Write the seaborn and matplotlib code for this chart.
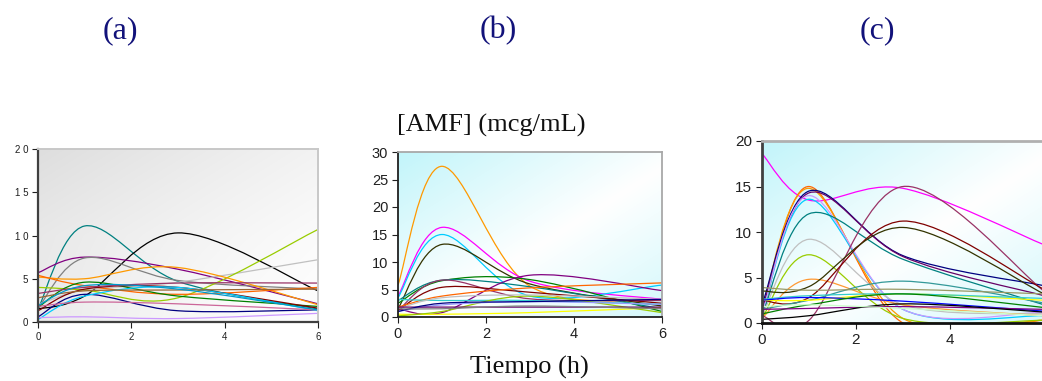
import numpy as np
import matplotlib
matplotlib.use("Agg")
import matplotlib.pyplot as plt
import seaborn as sns
from matplotlib.path import Path
from matplotlib.patches import PathPatch

# ---------------- data ----------------
times = [0, 1, 3, 6]                      # sampling times (h)
x_ticks = [0, 2, 4, 6]
c_x_ticks = [0, 2, 4]                     # the "6" of panel (c) lies past the image edge

a_yticks = [0, 5, 10, 15, 20]
a_yticklabels = ["0", "5", "1 0", "1 5", "2 0"]
a_colors = ["#008080", "#000000", "#800080", "#808080", "#c0c0c0", "#99cc00",
            "#ff9900", "#ff6600", "#008000", "#800000", "#993366", "#000080",
            "#00ccff", "#cc6699", "#cc99ff", "#996633", "#0099cc"]
a_values = [
    [1.5, 11.1, 4.7, 1.5],
    [1.5, 3.0, 10.3, 3.6],
    [5.7, 7.5, 6.1, 2.1],
    [1.6, 7.4, 4.8, 3.8],
    [2.0, 3.7, 4.6, 7.2],
    [4.0, 3.7, 2.8, 10.7],
    [5.2, 5.0, 6.3, 2.0],
    [5.4, 4.2, 3.2, 4.0],
    [1.7, 4.6, 3.0, 1.8],
    [1.3, 3.8, 4.0, 1.6],
    [3.3, 4.0, 4.5, 4.5],
    [0.6, 3.2, 1.3, 1.4],
    [0.3, 3.0, 4.0, 1.3],
    [1.8, 2.3, 2.1, 1.4],
    [0.5, 0.6, 0.4, 1.0],
    [2.8, 3.6, 3.7, 3.8],
    [1.9, 4.2, 3.8, 1.4],
]

b_yticks = [0, 5, 10, 15, 20, 25, 30]
b_colors = ["#ff9900", "#ff00ff", "#00ccff", "#333300", "#008000", "#008080",
            "#800080", "#993366", "#800000", "#ff6600", "#33cccc", "#ffff00",
            "#99cc00", "#9999ff", "#c0c0c0", "#660066", "#000080", "#808080"]
b_values = [
    [5.8, 27.4, 5.6, 3.0],
    [3.8, 16.3, 6.5, 3.2],
    [3.5, 15.0, 3.8, 5.8],
    [1.5, 13.2, 6.0, 2.0],
    [2.5, 6.6, 6.8, 1.0],
    [3.0, 6.7, 5.5, 1.5],
    [1.5, 0.8, 7.6, 4.8],
    [1.2, 6.7, 3.3, 3.0],
    [1.2, 5.4, 4.5, 2.5],
    [1.8, 3.8, 5.3, 6.2],
    [3.2, 3.0, 3.0, 2.3],
    [0.5, 0.5, 0.8, 1.7],
    [0.2, 1.0, 3.8, 0.8],
    [1.0, 2.2, 2.8, 2.3],
    [1.5, 3.5, 4.0, 3.2],
    [1.8, 1.8, 1.8, 1.8],
    [1.0, 2.5, 2.8, 3.2],
    [1.5, 1.5, 2.0, 1.5],
]

c_yticks = [0, 5, 10, 15, 20]
c_colors = ["#ff00ff", "#ff6600", "#ff9900", "#000080", "#660066", "#00ccff",
            "#cc99ff", "#008080", "#c0c0c0", "#99cc00", "#ff9933", "#993366",
            "#800000", "#333300", "#339999", "#999966", "#ffff00", "#33cccc",
            "#0000ff", "#008000", "#800080", "#000000", "#ccffcc"]
c_values = [
    [18.6, 13.5, 14.8, 8.6],
    [0.5, 15.0, 0.0, 0.3],
    [1.5, 14.8, 0.5, 0.3],
    [2.0, 14.5, 7.4, 4.1],
    [1.5, 14.3, 7.3, 3.0],
    [1.0, 13.6, 1.5, 0.8],
    [1.0, 14.0, 1.5, 1.2],
    [0.8, 12.0, 7.0, 2.0],
    [0.8, 9.2, 2.0, 1.0],
    [0.5, 7.5, 0.5, 0.3],
    [0.5, 4.8, 2.0, 0.8],
    [0.8, 0.3, 15.0, 3.5],
    [2.5, 2.8, 11.2, 3.7],
    [3.5, 4.0, 10.5, 3.2],
    [1.5, 2.5, 4.6, 2.2],
    [3.9, 3.6, 3.7, 3.2],
    [2.5, 2.5, 3.2, 2.5],
    [2.6, 3.0, 3.2, 2.7],
    [2.5, 2.8, 2.4, 1.3],
    [1.0, 2.0, 3.2, 1.7],
    [1.5, 1.6, 1.8, 1.5],
    [0.4, 0.8, 2.1, 1.2],
    [1.8, 2.0, 1.6, 0.8],
]

panel_letters = ["(a)", "(b)", "(c)"]
y_title = "[AMF] (mcg/mL)"
x_title = "Tiempo (h)"

# ---------------- style ----------------
sns.set_style("white")
plt.rcParams["font.family"] = ["Liberation Sans", "DejaVu Sans"]

fig = plt.figure(figsize=(10.42, 3.81), dpi=100)


def smooth_path(xs, ys):
    """Excel-like smoothed line: cubic Bezier segments through the data points."""
    pts = np.column_stack([xs, ys]).astype(float)
    n = len(pts)
    verts = [pts[0]]
    codes = [Path.MOVETO]
    for i in range(n - 1):
        p0 = pts[max(i - 1, 0)]
        p1 = pts[i]
        p2 = pts[i + 1]
        p3 = pts[min(i + 2, n - 1)]
        verts += [p1 + (p2 - p0) / 6.0, p2 - (p3 - p1) / 6.0, p2]
        codes += [Path.CURVE4] * 3
    return Path(verts, codes)


def background(ax, kind):
    n = 200
    u = np.linspace(0, 1, n)[None, :]
    r = np.linspace(0, 1, n)[:, None]
    d = (u + r) / 2.0
    if kind == "gray":
        i = np.clip(1 - d / 0.95, 0, 1) ** 1.3 + 0.25 * np.clip((r - 0.5) / 0.5, 0, 1) * np.clip(1 - u, 0.3, 1)
        base = np.array([0.87, 0.87, 0.87])
    else:
        i = np.clip(1 - d / 0.55, 0, 1) + 0.7 * np.clip((d - 0.55) / 0.45, 0, 1)
        base = np.array([0.76, 0.96, 0.98])
    img = 1 - np.clip(i, 0, 1)[..., None] * (1 - base)[None, None, :]
    ax.imshow(img, extent=[0, 1, 0, 1], transform=ax.transAxes,
              aspect="auto", zorder=0, interpolation="bilinear")


def draw_panel(rect, values, colors, xticks, yticks, ylabels, ymax, kind,
               tick_fs, spine_main, spine_light):
    ax = fig.add_axes(rect)
    background(ax, kind)
    for vals, col in zip(values, colors):
        ax.add_patch(PathPatch(smooth_path(times, vals), facecolor="none",
                               edgecolor=col, lw=0.9, zorder=2))
    ax.set_xlim(0, 6)
    ax.set_ylim(0, ymax)
    ax.set_xticks(xticks)
    ax.set_xticklabels([str(t) for t in xticks])
    ax.set_yticks(yticks)
    ax.set_yticklabels(ylabels)
    ax.tick_params(axis="both", direction="out", length=4, width=0.8,
                   labelsize=tick_fs, colors="#202020", left=True, bottom=True,
                   pad=3)
    for s in ["left", "bottom"]:
        ax.spines[s].set_color(spine_main[0])
        ax.spines[s].set_linewidth(spine_main[1])
    for s in ["top", "right"]:
        ax.spines[s].set_color(spine_light[0])
        ax.spines[s].set_linewidth(spine_light[1])
    ax.set_xlabel("")
    ax.set_ylabel("")
    return ax


W, H = 1042.0, 381.0


def rect_px(left, top, right, bottom):
    return [left / W, 1 - bottom / H, (right - left) / W, (bottom - top) / H]


ax_a = draw_panel(rect_px(38, 149, 318, 322), a_values, a_colors, x_ticks,
                  a_yticks, a_yticklabels, 20, "gray", 7, ("#404040", 1.6),
                  ("#c8c8c8", 1.4))
ax_b = draw_panel(rect_px(398, 152, 662, 317), b_values, b_colors, x_ticks,
                  b_yticks, [str(v) for v in b_yticks], 30, "cyan", 10.5,
                  ("#202020", 1.3), ("#a8a8a8", 1.3))
ax_c = draw_panel(rect_px(762, 141, 1044, 323), c_values, c_colors, c_x_ticks,
                  c_yticks, [str(v) for v in c_yticks], 20, "cyan", 11,
                  ("#404040", 2.0), ("#b0b0b0", 2.0))
ax_c.spines["bottom"].set_color("#101010")

# panel letters
for xc, lab in zip([120, 498, 877], panel_letters):
    fig.text(xc / W, 1 - 31 / H, lab, ha="center", va="center",
             fontsize=23, color="#12127a", family=["Liberation Serif"])

fig.text(491 / W, 1 - 125 / H, y_title, ha="center", va="center",
         fontsize=19, color="#111111", family=["Liberation Serif"])
fig.text(529 / W, 1 - 367 / H, x_title, ha="center", va="center",
         fontsize=19, color="#111111", family=["Liberation Serif"])

fig.savefig("out.png", dpi=100, facecolor="white")
